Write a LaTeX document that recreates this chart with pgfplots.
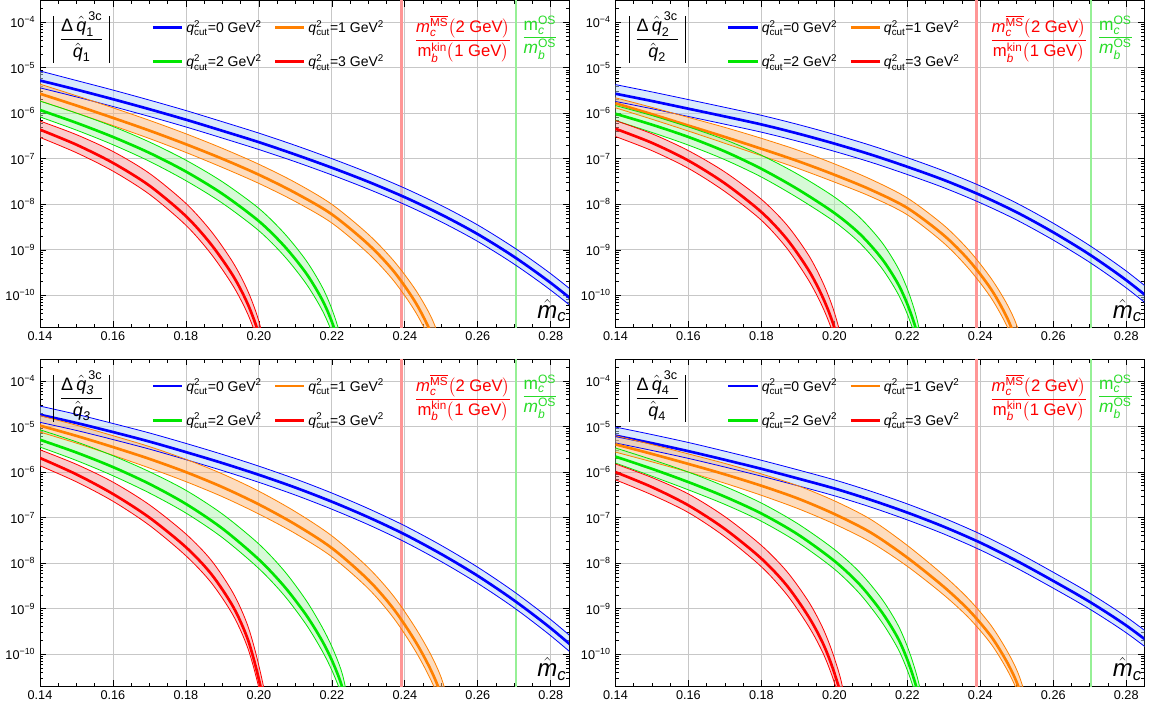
\documentclass[border=0pt]{standalone}
\usepackage{amsmath}
\usepackage{fontspec}
\setmainfont{Liberation Sans}
\usepackage{pgfplots}
\pgfplotsset{compat=1.18}
\definecolor{cB}{RGB}{0,0,255}
\definecolor{cO}{RGB}{255,128,0}
\definecolor{cG}{RGB}{0,230,0}
\definecolor{cR}{RGB}{255,0,0}
\definecolor{fB}{RGB}{181,213,249}
\definecolor{fO}{RGB}{251,185,125}
\definecolor{fG}{RGB}{175,245,175}
\definecolor{fR}{RGB}{245,155,155}
\definecolor{cGt}{RGB}{40,220,40}
\definecolor{vR}{RGB}{255,150,150}
\definecolor{vG}{RGB}{150,240,150}
\pgfplotsset{
 legend image code/.code={\draw[#1] (0pt,0pt) -- (22pt,0pt);},
 qpanel/.style={
  scale only axis, width=396.75pt, height=245pt,
  xmin=0.14, xmax=0.285, ymin=2e-11, ymax=3e-4,
  xtick={0.14,0.16,0.18,0.2,0.22,0.24,0.26,0.28},
  xticklabels={0.14,0.16,0.18,0.20,0.22,0.24,0.26,0.28},
  minor x tick num=3,
  ytick={1e-10,1e-9,1e-8,1e-7,1e-6,1e-5,1e-4},
  yticklabels={10\textsuperscript{−10},10\textsuperscript{−9},10\textsuperscript{−8},10\textsuperscript{−7},10\textsuperscript{−6},10\textsuperscript{−5},10\textsuperscript{−4}},
  minor ytick={3e-11,4e-11,5e-11,6e-11,7e-11,8e-11,9e-11,
   2e-10,3e-10,4e-10,5e-10,6e-10,7e-10,8e-10,9e-10,
   2e-9,3e-9,4e-9,5e-9,6e-9,7e-9,8e-9,9e-9,
   2e-8,3e-8,4e-8,5e-8,6e-8,7e-8,8e-8,9e-8,
   2e-7,3e-7,4e-7,5e-7,6e-7,7e-7,8e-7,9e-7,
   2e-6,3e-6,4e-6,5e-6,6e-6,7e-6,8e-6,9e-6,
   2e-5,3e-5,4e-5,5e-5,6e-5,7e-5,8e-5,9e-5,2e-4,3e-4},
  tick align=inside,
  grid=major, major grid style={draw=black!22, line width=0.6pt},
  major tick length=4.5pt, minor tick length=2.5pt,
  tick style={black, line width=0.5pt},
  axis line style={black, line width=0.6pt},
  tick label style={font=\fontsize{9.5}{11}\selectfont},
  legend columns=2,
  legend cell align=left,
  legend style={at={(rel axis cs:0.203,0.957)}, anchor=north west, draw=none, fill=none,
   font=\fontsize{10.5}{12}\selectfont, row sep=11pt,
   /tikz/every even column/.append style={column sep=7pt}},
 },
 bandline/.style={smooth, line width=0.6pt, forget plot, mark=none},
 midline/.style={smooth, line width=2pt, mark=none},
 bandfill/.style={smooth, draw=none, fill opacity=0.5, forget plot, mark=none},
}
\newcommand{\qlab}[1]{\textit{q}$^{\text{2}}_{\text{cut}}$=#1 GeV$^{\text{2}}$}
\newcommand{\vbar}{\vcenter{\hbox{\rule{0.8pt}{35pt}}}}
\newcommand{\vlines}{%
 \addplot[forget plot, draw=vR, line width=2pt] coordinates {(0.239,1e-12) (0.239,1e-3)};
 \addplot[forget plot, draw=vG, line width=1.8pt] coordinates {(0.2704,1e-12) (0.2704,1e-3)};
}
\newcommand{\decor}[1]{%
 \node[anchor=base] at (rel axis cs:0.079,0.866) {\fontsize{13.5}{16}\selectfont$\vbar\;\dfrac{\text{Δ}\,\hat{\textit{q}}_{#1}^{\,\text{3c}}}{\hat{\textit{q}}_{#1}}\;\vbar$};
 \node[text=cR, anchor=base] at (rel axis cs:0.80,0.866) {\fontsize{12.5}{15}\selectfont$\dfrac{\textit{m}_{\textit{c}}^{\overline{\text{MS}}}\bigl(\text{2 GeV}\bigr)}{\text{m}_{\textit{b}}^{\text{kin}}\bigl(\text{1 GeV}\bigr)}$};
 \node[text=cGt, anchor=base] at (rel axis cs:0.945,0.876) {\fontsize{13}{15}\selectfont$\dfrac{\text{m}_{\textit{c}}^{\text{OS}}}{\textit{m}_{\textit{b}}^{\text{OS}}}$};
 \node[anchor=south east, inner sep=1pt] at (rel axis cs:0.998,0.012) {\fontsize{18}{20}\selectfont$\hat{\textit{m}}_{\textit{c}}$};
}
\begin{document}
\begin{tikzpicture}
\useasboundingbox (0,0) rectangle (864.75pt,-531.75pt);
% ================= panel 1
\begin{axis}[qpanel, ymode=log, at={(30pt,-245.4pt)}, anchor=south west]
\vlines
\addplot[bandfill, fill=fB] coordinates {(0.14,8.51e-6) (0.15,5.25e-6) (0.16,3.24e-6) (0.17,1.95e-6) (0.18,1.15e-6) (0.19,6.53e-7) (0.20,3.67e-7) (0.21,1.97e-7) (0.22,1.01e-7) (0.23,4.95e-8) (0.24,2.26e-8) (0.25,9.44e-9) (0.26,3.51e-9) (0.27,1.11e-9) (0.28,2.99e-10) (0.29,6.84e-11)
 (0.29,2.99e-11) (0.28,1.30e-10) (0.27,4.84e-10) (0.26,1.53e-9) (0.25,4.12e-9) (0.24,9.89e-9) (0.23,2.16e-8) (0.22,4.42e-8) (0.21,8.61e-8) (0.20,1.60e-7) (0.19,2.85e-7) (0.18,5.01e-7) (0.17,8.51e-7) (0.16,1.41e-6) (0.15,2.29e-6) (0.14,3.63e-6)};
\addplot[bandfill, fill=fO] coordinates {(0.14,4.37e-6) (0.15,2.43e-6) (0.16,1.32e-6) (0.17,7.00e-7) (0.18,3.55e-7) (0.19,1.70e-7) (0.20,7.59e-8) (0.21,3.02e-8) (0.22,1.00e-8) (0.23,2.19e-9) (0.237,5.69e-10) (0.243,1.30e-10) (0.2475,2.99e-11) (0.2505,6.03e-12) (0.253,5.62e-13)
 (0.253,9.77e-14) (0.2505,1.32e-12) (0.2475,8.04e-12) (0.243,4.22e-11) (0.237,2.07e-10) (0.23,8.32e-10) (0.22,3.89e-9) (0.21,1.15e-8) (0.20,2.88e-8) (0.19,6.46e-8) (0.18,1.38e-7) (0.17,2.79e-7) (0.16,5.37e-7) (0.15,1.01e-6) (0.14,1.86e-6)};
\addplot[bandfill, fill=fG] coordinates {(0.14,1.86e-6) (0.15,1.01e-6) (0.16,5.13e-7) (0.17,2.34e-7) (0.18,9.33e-8) (0.19,3.13e-8) (0.20,8.13e-9) (0.207,2.29e-9) (0.213,5.75e-10) (0.2175,1.45e-10) (0.2205,3.89e-11) (0.223,7.76e-12) (0.225,6.03e-13)
 (0.225,1.86e-13) (0.223,2.40e-12) (0.2205,1.20e-11) (0.2175,4.47e-11) (0.213,1.78e-10) (0.207,7.24e-10) (0.20,2.63e-9) (0.19,1.06e-8) (0.18,3.31e-8) (0.17,8.81e-8) (0.16,2.04e-7) (0.15,4.27e-7) (0.14,8.32e-7)};
\addplot[bandfill, fill=fR] coordinates {(0.14,6.76e-7) (0.15,3.39e-7) (0.16,1.45e-7) (0.17,4.79e-8) (0.18,1.05e-8) (0.187,2.51e-9) (0.193,5.13e-10) (0.197,1.23e-10) (0.200,2.69e-11) (0.2025,3.55e-12) (0.2045,1.95e-13)
 (0.2045,6.03e-14) (0.2025,1.10e-12) (0.200,8.32e-12) (0.197,3.80e-11) (0.193,1.58e-10) (0.187,7.94e-10) (0.18,3.47e-9) (0.17,1.66e-8) (0.16,5.37e-8) (0.15,1.36e-7) (0.14,2.95e-7)};
\addplot[bandline, draw=cB] coordinates {(0.14,8.51e-6) (0.15,5.25e-6) (0.16,3.24e-6) (0.17,1.95e-6) (0.18,1.15e-6) (0.19,6.53e-7) (0.20,3.67e-7) (0.21,1.97e-7) (0.22,1.01e-7) (0.23,4.95e-8) (0.24,2.26e-8) (0.25,9.44e-9) (0.26,3.51e-9) (0.27,1.11e-9) (0.28,2.99e-10) (0.29,6.84e-11)};
\addplot[bandline, draw=cB] coordinates {(0.14,3.63e-6) (0.15,2.29e-6) (0.16,1.41e-6) (0.17,8.51e-7) (0.18,5.01e-7) (0.19,2.85e-7) (0.20,1.60e-7) (0.21,8.61e-8) (0.22,4.42e-8) (0.23,2.16e-8) (0.24,9.89e-9) (0.25,4.12e-9) (0.26,1.53e-9) (0.27,4.84e-10) (0.28,1.30e-10) (0.29,2.99e-11)};
\addplot[midline, draw=cB] coordinates {(0.14,5.25e-6) (0.15,3.31e-6) (0.16,2.04e-6) (0.17,1.23e-6) (0.18,7.24e-7) (0.19,4.12e-7) (0.20,2.32e-7) (0.21,1.24e-7) (0.22,6.38e-8) (0.23,3.13e-8) (0.24,1.43e-8) (0.25,5.96e-9) (0.26,2.21e-9) (0.27,7.00e-10) (0.28,1.88e-10) (0.29,4.32e-11)};
\addlegendentry{\qlab{0}}
\addplot[bandline, draw=cO] coordinates {(0.14,4.37e-6) (0.15,2.43e-6) (0.16,1.32e-6) (0.17,7.00e-7) (0.18,3.55e-7) (0.19,1.70e-7) (0.20,7.59e-8) (0.21,3.02e-8) (0.22,1.00e-8) (0.23,2.19e-9) (0.237,5.69e-10) (0.243,1.30e-10) (0.2475,2.99e-11) (0.2505,6.03e-12) (0.253,5.62e-13)};
\addplot[bandline, draw=cO] coordinates {(0.14,1.86e-6) (0.15,1.01e-6) (0.16,5.37e-7) (0.17,2.79e-7) (0.18,1.38e-7) (0.19,6.46e-8) (0.20,2.88e-8) (0.21,1.15e-8) (0.22,3.89e-9) (0.23,8.32e-10) (0.237,2.07e-10) (0.243,4.22e-11) (0.2475,8.04e-12) (0.2505,1.32e-12) (0.253,9.77e-14)};
\addplot[midline, draw=cO] coordinates {(0.14,2.69e-6) (0.15,1.48e-6) (0.16,7.94e-7) (0.17,4.17e-7) (0.18,2.09e-7) (0.19,1.00e-7) (0.20,4.47e-8) (0.21,1.78e-8) (0.22,6.03e-9) (0.23,1.32e-9) (0.237,3.35e-10) (0.243,6.84e-11) (0.2475,1.30e-11) (0.2505,2.14e-12) (0.253,1.58e-13)};
\addlegendentry{\qlab{1}}
\addplot[bandline, draw=cG] coordinates {(0.14,1.86e-6) (0.15,1.01e-6) (0.16,5.13e-7) (0.17,2.34e-7) (0.18,9.33e-8) (0.19,3.13e-8) (0.20,8.13e-9) (0.207,2.29e-9) (0.213,5.75e-10) (0.2175,1.45e-10) (0.2205,3.89e-11) (0.223,7.76e-12) (0.225,6.03e-13)};
\addplot[bandline, draw=cG] coordinates {(0.14,8.32e-7) (0.15,4.27e-7) (0.16,2.04e-7) (0.17,8.81e-8) (0.18,3.31e-8) (0.19,1.06e-8) (0.20,2.63e-9) (0.207,7.24e-10) (0.213,1.78e-10) (0.2175,4.47e-11) (0.2205,1.20e-11) (0.223,2.40e-12) (0.225,1.86e-13)};
\addplot[midline, draw=cG] coordinates {(0.14,1.18e-6) (0.15,6.17e-7) (0.16,3.02e-7) (0.17,1.35e-7) (0.18,5.25e-8) (0.19,1.70e-8) (0.20,4.27e-9) (0.207,1.20e-9) (0.213,3.02e-10) (0.2175,7.59e-11) (0.2205,2.04e-11) (0.223,4.07e-12) (0.225,3.16e-13)};
\addlegendentry{\qlab{2}}
\addplot[bandline, draw=cR] coordinates {(0.14,6.76e-7) (0.15,3.39e-7) (0.16,1.45e-7) (0.17,4.79e-8) (0.18,1.05e-8) (0.187,2.51e-9) (0.193,5.13e-10) (0.197,1.23e-10) (0.200,2.69e-11) (0.2025,3.55e-12) (0.2045,1.95e-13)};
\addplot[bandline, draw=cR] coordinates {(0.14,2.95e-7) (0.15,1.36e-7) (0.16,5.37e-8) (0.17,1.66e-8) (0.18,3.47e-9) (0.187,7.94e-10) (0.193,1.58e-10) (0.197,3.80e-11) (0.200,8.32e-12) (0.2025,1.10e-12) (0.2045,6.03e-14)};
\addplot[midline, draw=cR] coordinates {(0.14,4.37e-7) (0.15,2.04e-7) (0.16,8.13e-8) (0.17,2.57e-8) (0.18,5.50e-9) (0.187,1.29e-9) (0.193,2.63e-10) (0.197,6.31e-11) (0.200,1.38e-11) (0.2025,1.82e-12) (0.2045,1e-13)};
\addlegendentry{\qlab{3}}
\decor{\text{1}}
\end{axis}
% ================= panel 2
\begin{axis}[qpanel, ymode=log, at={(461.6pt,-245.4pt)}, anchor=south west]
\vlines
\addplot[bandfill, fill=fB] coordinates {(0.14,4.27e-6) (0.15,2.95e-6) (0.16,2.00e-6) (0.17,1.35e-6) (0.18,9.02e-7) (0.19,5.69e-7) (0.20,3.43e-7) (0.21,1.97e-7) (0.22,1.06e-7) (0.23,5.43e-8) (0.24,2.54e-8) (0.25,1.06e-8) (0.26,3.85e-9) (0.27,1.24e-9) (0.28,3.43e-10) (0.29,7.85e-11)
 (0.29,3.35e-11) (0.28,1.46e-10) (0.27,5.31e-10) (0.26,1.64e-9) (0.25,4.52e-9) (0.24,1.08e-8) (0.23,2.32e-8) (0.22,4.52e-8) (0.21,8.41e-8) (0.20,1.46e-7) (0.19,2.43e-7) (0.18,3.85e-7) (0.17,5.75e-7) (0.16,8.51e-7) (0.15,1.26e-6) (0.14,1.82e-6)};
\addplot[bandfill, fill=fO] coordinates {(0.14,2.19e-6) (0.15,1.35e-6) (0.16,8.13e-7) (0.17,4.90e-7) (0.18,2.82e-7) (0.19,1.55e-7) (0.20,7.76e-8) (0.21,3.55e-8) (0.22,1.38e-8) (0.23,3.47e-9) (0.237,9.55e-10) (0.243,2.34e-10) (0.2475,6.03e-11) (0.2505,1.66e-11) (0.253,2.00e-12)
 (0.253,4.07e-13) (0.2505,4.27e-12) (0.2475,1.95e-11) (0.243,8.71e-11) (0.237,3.72e-10) (0.23,1.41e-9) (0.22,5.89e-9) (0.21,1.48e-8) (0.20,3.09e-8) (0.19,6.17e-8) (0.18,1.17e-7) (0.17,2.19e-7) (0.16,4.07e-7) (0.15,7.41e-7) (0.14,1.32e-6)};
\addplot[bandfill, fill=fG] coordinates {(0.14,1.48e-6) (0.15,8.91e-7) (0.16,5.01e-7) (0.17,2.63e-7) (0.18,1.20e-7) (0.19,4.57e-8) (0.20,1.45e-8) (0.207,5.11e-9) (0.213,1.47e-9) (0.2175,3.94e-10) (0.2205,1.08e-10) (0.223,2.26e-11) (0.225,2.00e-12)
 (0.225,6.03e-13) (0.223,6.84e-12) (0.2205,3.05e-11) (0.2175,1.06e-10) (0.213,3.96e-10) (0.207,1.41e-9) (0.20,4.17e-9) (0.19,1.38e-8) (0.18,3.98e-8) (0.17,9.55e-8) (0.16,2.00e-7) (0.15,3.80e-7) (0.14,6.92e-7)};
\addplot[bandfill, fill=fR] coordinates {(0.14,6.92e-7) (0.15,3.55e-7) (0.16,1.51e-7) (0.17,5.13e-8) (0.18,1.29e-8) (0.187,3.51e-9) (0.193,7.50e-10) (0.197,1.80e-10) (0.200,4.22e-11) (0.2025,6.68e-12) (0.2045,3.39e-13)
 (0.2045,9.55e-14) (0.2025,1.88e-12) (0.200,1.19e-11) (0.197,5.07e-11) (0.193,2.11e-10) (0.187,1.08e-9) (0.18,4.47e-9) (0.17,1.91e-8) (0.16,6.17e-8) (0.15,1.51e-7) (0.14,3.09e-7)};
\addplot[bandline, draw=cB] coordinates {(0.14,4.27e-6) (0.15,2.95e-6) (0.16,2.00e-6) (0.17,1.35e-6) (0.18,9.02e-7) (0.19,5.69e-7) (0.20,3.43e-7) (0.21,1.97e-7) (0.22,1.06e-7) (0.23,5.43e-8) (0.24,2.54e-8) (0.25,1.06e-8) (0.26,3.85e-9) (0.27,1.24e-9) (0.28,3.43e-10) (0.29,7.85e-11)};
\addplot[bandline, draw=cB] coordinates {(0.14,1.82e-6) (0.15,1.26e-6) (0.16,8.51e-7) (0.17,5.75e-7) (0.18,3.85e-7) (0.19,2.43e-7) (0.20,1.46e-7) (0.21,8.41e-8) (0.22,4.52e-8) (0.23,2.32e-8) (0.24,1.08e-8) (0.25,4.52e-9) (0.26,1.64e-9) (0.27,5.31e-10) (0.28,1.46e-10) (0.29,3.35e-11)};
\addplot[midline, draw=cB] coordinates {(0.14,2.69e-6) (0.15,1.86e-6) (0.16,1.26e-6) (0.17,8.51e-7) (0.18,5.69e-7) (0.19,3.59e-7) (0.20,2.16e-7) (0.21,1.24e-7) (0.22,6.68e-8) (0.23,3.43e-8) (0.24,1.60e-8) (0.25,6.68e-9) (0.26,2.43e-9) (0.27,7.85e-10) (0.28,2.16e-10) (0.29,4.95e-11)};
\addlegendentry{\qlab{0}}
\addplot[bandline, draw=cO] coordinates {(0.14,2.19e-6) (0.15,1.35e-6) (0.16,8.13e-7) (0.17,4.90e-7) (0.18,2.82e-7) (0.19,1.55e-7) (0.20,7.76e-8) (0.21,3.55e-8) (0.22,1.38e-8) (0.23,3.47e-9) (0.237,9.55e-10) (0.243,2.34e-10) (0.2475,6.03e-11) (0.2505,1.66e-11) (0.253,2.00e-12)};
\addplot[bandline, draw=cO] coordinates {(0.14,1.32e-6) (0.15,7.41e-7) (0.16,4.07e-7) (0.17,2.19e-7) (0.18,1.17e-7) (0.19,6.17e-8) (0.20,3.09e-8) (0.21,1.48e-8) (0.22,5.89e-9) (0.23,1.41e-9) (0.237,3.72e-10) (0.243,8.71e-11) (0.2475,1.95e-11) (0.2505,4.27e-12) (0.253,4.07e-13)};
\addplot[midline, draw=cO] coordinates {(0.14,1.66e-6) (0.15,9.55e-7) (0.16,5.37e-7) (0.17,3.02e-7) (0.18,1.66e-7) (0.19,8.91e-8) (0.20,4.47e-8) (0.21,2.09e-8) (0.22,8.32e-9) (0.23,2.09e-9) (0.237,5.75e-10) (0.243,1.35e-10) (0.2475,3.02e-11) (0.2505,6.61e-12) (0.253,6.31e-13)};
\addlegendentry{\qlab{1}}
\addplot[bandline, draw=cG] coordinates {(0.14,1.48e-6) (0.15,8.91e-7) (0.16,5.01e-7) (0.17,2.63e-7) (0.18,1.20e-7) (0.19,4.57e-8) (0.20,1.45e-8) (0.207,5.11e-9) (0.213,1.47e-9) (0.2175,3.94e-10) (0.2205,1.08e-10) (0.223,2.26e-11) (0.225,2.00e-12)};
\addplot[bandline, draw=cG] coordinates {(0.14,6.92e-7) (0.15,3.80e-7) (0.16,2.00e-7) (0.17,9.55e-8) (0.18,3.98e-8) (0.19,1.38e-8) (0.20,4.17e-9) (0.207,1.41e-9) (0.213,3.96e-10) (0.2175,1.06e-10) (0.2205,3.05e-11) (0.223,6.84e-12) (0.225,6.03e-13)};
\addplot[midline, draw=cG] coordinates {(0.14,9.77e-7) (0.15,5.62e-7) (0.16,3.02e-7) (0.17,1.45e-7) (0.18,6.03e-8) (0.19,2.14e-8) (0.20,6.46e-9) (0.207,2.23e-9) (0.213,6.43e-10) (0.2175,1.76e-10) (0.2205,5.07e-11) (0.223,1.14e-11) (0.225,1.00e-12)};
\addlegendentry{\qlab{2}}
\addplot[bandline, draw=cR] coordinates {(0.14,6.92e-7) (0.15,3.55e-7) (0.16,1.51e-7) (0.17,5.13e-8) (0.18,1.29e-8) (0.187,3.51e-9) (0.193,7.50e-10) (0.197,1.80e-10) (0.200,4.22e-11) (0.2025,6.68e-12) (0.2045,3.39e-13)};
\addplot[bandline, draw=cR] coordinates {(0.14,3.09e-7) (0.15,1.51e-7) (0.16,6.17e-8) (0.17,1.91e-8) (0.18,4.47e-9) (0.187,1.08e-9) (0.193,2.11e-10) (0.197,5.07e-11) (0.200,1.19e-11) (0.2025,1.88e-12) (0.2045,9.55e-14)};
\addplot[midline, draw=cR] coordinates {(0.14,4.57e-7) (0.15,2.24e-7) (0.16,9.12e-8) (0.17,2.88e-8) (0.18,6.76e-9) (0.187,1.72e-9) (0.193,3.51e-10) (0.197,8.41e-11) (0.200,1.97e-11) (0.2025,3.13e-12) (0.2045,1.58e-13)};
\addlegendentry{\qlab{3}}
\decor{\text{2}}
\end{axis}
% ================= panel 3
\begin{axis}[qpanel, ymode=log, at={(30pt,-514.5pt)}, anchor=south west]
\vlines
\addplot[bandfill, fill=fB] coordinates {(0.14,2.82e-5) (0.15,1.86e-5) (0.16,1.17e-5) (0.17,7.24e-6) (0.18,4.27e-6) (0.19,2.45e-6) (0.20,1.35e-6) (0.21,7.08e-7) (0.22,3.47e-7) (0.23,1.58e-7) (0.24,6.61e-8) (0.25,2.45e-8) (0.26,8.13e-9) (0.27,2.34e-9) (0.28,5.75e-10) (0.29,1.20e-10)
 (0.29,5.31e-11) (0.28,2.54e-10) (0.27,1.04e-9) (0.26,3.59e-9) (0.25,1.08e-8) (0.24,2.92e-8) (0.23,7.00e-8) (0.22,1.53e-7) (0.21,3.13e-7) (0.20,5.96e-7) (0.19,1.08e-6) (0.18,1.88e-6) (0.17,3.20e-6) (0.16,5.19e-6) (0.15,8.22e-6) (0.14,1.24e-5)};
\addplot[bandfill, fill=fO] coordinates {(0.14,1.74e-5) (0.15,1.07e-5) (0.16,6.31e-6) (0.17,3.63e-6) (0.18,1.91e-6) (0.19,9.12e-7) (0.20,3.80e-7) (0.21,1.35e-7) (0.22,3.98e-8) (0.23,7.94e-9) (0.237,1.85e-9) (0.243,3.68e-10) (0.2475,8.53e-11) (0.2505,2.30e-11) (0.253,3.16e-12)
 (0.253,6.03e-13) (0.2505,5.51e-12) (0.2475,2.35e-11) (0.243,1.14e-10) (0.237,6.11e-10) (0.23,2.75e-9) (0.22,1.38e-8) (0.21,4.47e-8) (0.20,1.20e-7) (0.19,2.88e-7) (0.18,6.17e-7) (0.17,1.23e-6) (0.16,2.34e-6) (0.15,4.32e-6) (0.14,7.59e-6)};
\addplot[bandfill, fill=fG] coordinates {(0.14,8.51e-6) (0.15,4.62e-6) (0.16,2.29e-6) (0.17,1.02e-6) (0.18,3.98e-7) (0.19,1.20e-7) (0.20,2.63e-8) (0.207,6.68e-9) (0.213,1.50e-9) (0.2175,3.72e-10) (0.2205,1.19e-10) (0.223,3.35e-11) (0.225,5.01e-12) (0.227,3.16e-13)
 (0.227,9.55e-14) (0.225,1.51e-12) (0.223,1.01e-11) (0.2205,3.59e-11) (0.2175,1.12e-10) (0.213,4.42e-10) (0.207,1.93e-9) (0.20,7.59e-9) (0.19,3.63e-8) (0.18,1.26e-7) (0.17,3.47e-7) (0.16,8.32e-7) (0.15,1.80e-6) (0.14,3.55e-6)};
\addplot[bandfill, fill=fR] coordinates {(0.14,3.09e-6) (0.15,1.48e-6) (0.16,6.03e-7) (0.17,1.91e-7) (0.18,4.37e-8) (0.187,1.14e-8) (0.193,2.16e-9) (0.197,4.12e-10) (0.200,5.56e-11) (0.2025,5.56e-12) (0.2045,2.00e-13)
 (0.2045,6.46e-14) (0.2025,1.80e-12) (0.200,1.80e-11) (0.197,1.33e-10) (0.193,7.00e-10) (0.187,3.67e-9) (0.18,1.45e-8) (0.17,6.76e-8) (0.16,2.29e-7) (0.15,6.10e-7) (0.14,1.38e-6)};
\addplot[bandline, draw=cB] coordinates {(0.14,2.82e-5) (0.15,1.86e-5) (0.16,1.17e-5) (0.17,7.24e-6) (0.18,4.27e-6) (0.19,2.45e-6) (0.20,1.35e-6) (0.21,7.08e-7) (0.22,3.47e-7) (0.23,1.58e-7) (0.24,6.61e-8) (0.25,2.45e-8) (0.26,8.13e-9) (0.27,2.34e-9) (0.28,5.75e-10) (0.29,1.20e-10)};
\addplot[bandline, draw=cB] coordinates {(0.14,1.24e-5) (0.15,8.22e-6) (0.16,5.19e-6) (0.17,3.20e-6) (0.18,1.88e-6) (0.19,1.08e-6) (0.20,5.96e-7) (0.21,3.13e-7) (0.22,1.53e-7) (0.23,7.00e-8) (0.24,2.92e-8) (0.25,1.08e-8) (0.26,3.59e-9) (0.27,1.04e-9) (0.28,2.54e-10) (0.29,5.31e-11)};
\addplot[midline, draw=cB] coordinates {(0.14,1.82e-5) (0.15,1.20e-5) (0.16,7.59e-6) (0.17,4.68e-6) (0.18,2.75e-6) (0.19,1.58e-6) (0.20,8.71e-7) (0.21,4.57e-7) (0.22,2.24e-7) (0.23,1.02e-7) (0.24,4.27e-8) (0.25,1.58e-8) (0.26,5.25e-9) (0.27,1.51e-9) (0.28,3.72e-10) (0.29,7.76e-11)};
\addlegendentry{\qlab{0}}
\addplot[bandline, draw=cO] coordinates {(0.14,1.74e-5) (0.15,1.07e-5) (0.16,6.31e-6) (0.17,3.63e-6) (0.18,1.91e-6) (0.19,9.12e-7) (0.20,3.80e-7) (0.21,1.35e-7) (0.22,3.98e-8) (0.23,7.94e-9) (0.237,1.85e-9) (0.243,3.68e-10) (0.2475,8.53e-11) (0.2505,2.30e-11) (0.253,3.16e-12)};
\addplot[bandline, draw=cO] coordinates {(0.14,7.59e-6) (0.15,4.32e-6) (0.16,2.34e-6) (0.17,1.23e-6) (0.18,6.17e-7) (0.19,2.88e-7) (0.20,1.20e-7) (0.21,4.47e-8) (0.22,1.38e-8) (0.23,2.75e-9) (0.237,6.11e-10) (0.243,1.14e-10) (0.2475,2.35e-11) (0.2505,5.51e-12) (0.253,6.03e-13)};
\addplot[midline, draw=cO] coordinates {(0.14,1.05e-5) (0.15,6.24e-6) (0.16,3.55e-6) (0.17,1.95e-6) (0.18,1.00e-6) (0.19,4.68e-7) (0.20,1.95e-7) (0.21,7.08e-8) (0.22,2.14e-8) (0.23,4.27e-9) (0.237,9.68e-10) (0.243,1.85e-10) (0.2475,3.90e-11) (0.2505,9.14e-12) (0.253,1.00e-12)};
\addlegendentry{\qlab{1}}
\addplot[bandline, draw=cG] coordinates {(0.14,8.51e-6) (0.15,4.62e-6) (0.16,2.29e-6) (0.17,1.02e-6) (0.18,3.98e-7) (0.19,1.20e-7) (0.20,2.63e-8) (0.207,6.68e-9) (0.213,1.50e-9) (0.2175,3.72e-10) (0.2205,1.19e-10) (0.223,3.35e-11) (0.225,5.01e-12) (0.227,3.16e-13)};
\addplot[bandline, draw=cG] coordinates {(0.14,3.55e-6) (0.15,1.80e-6) (0.16,8.32e-7) (0.17,3.47e-7) (0.18,1.26e-7) (0.19,3.63e-8) (0.20,7.59e-9) (0.207,1.93e-9) (0.213,4.42e-10) (0.2175,1.12e-10) (0.2205,3.59e-11) (0.223,1.01e-11) (0.225,1.51e-12) (0.227,9.55e-14)};
\addplot[midline, draw=cG] coordinates {(0.14,5.13e-6) (0.15,2.69e-6) (0.16,1.29e-6) (0.17,5.50e-7) (0.18,2.00e-7) (0.19,5.75e-8) (0.20,1.20e-8) (0.207,3.05e-9) (0.213,7.16e-10) (0.2175,1.86e-10) (0.2205,5.96e-11) (0.223,1.68e-11) (0.225,2.51e-12) (0.227,1.58e-13)};
\addlegendentry{\qlab{2}}
\addplot[bandline, draw=cR] coordinates {(0.14,3.09e-6) (0.15,1.48e-6) (0.16,6.03e-7) (0.17,1.91e-7) (0.18,4.37e-8) (0.187,1.14e-8) (0.193,2.16e-9) (0.197,4.12e-10) (0.200,5.56e-11) (0.2025,5.56e-12) (0.2045,2.00e-13)};
\addplot[bandline, draw=cR] coordinates {(0.14,1.38e-6) (0.15,6.10e-7) (0.16,2.29e-7) (0.17,6.76e-8) (0.18,1.45e-8) (0.187,3.67e-9) (0.193,7.00e-10) (0.197,1.33e-10) (0.200,1.80e-11) (0.2025,1.80e-12) (0.2045,6.46e-14)};
\addplot[midline, draw=cR] coordinates {(0.14,2.04e-6) (0.15,8.91e-7) (0.16,3.31e-7) (0.17,1.00e-7) (0.18,2.24e-8) (0.187,5.69e-9) (0.193,1.08e-9) (0.197,2.07e-10) (0.200,2.79e-11) (0.2025,2.79e-12) (0.2045,1e-13)};
\addlegendentry{\qlab{3}}
\decor{\textit{3}}
\end{axis}
% ================= panel 4
\begin{axis}[qpanel, ymode=log, at={(461.6pt,-514.5pt)}, anchor=south west]
\vlines
\addplot[bandfill, fill=fB] coordinates {(0.14,9.77e-6) (0.15,6.68e-6) (0.16,4.47e-6) (0.17,2.88e-6) (0.18,1.82e-6) (0.19,1.12e-6) (0.20,6.76e-7) (0.21,3.80e-7) (0.22,2.00e-7) (0.23,9.77e-8) (0.24,4.37e-8) (0.25,1.74e-8) (0.26,6.31e-9) (0.27,2.19e-9) (0.28,6.61e-10) (0.29,1.66e-10)
 (0.29,7.41e-11) (0.28,2.95e-10) (0.27,9.77e-10) (0.26,2.82e-9) (0.25,7.76e-9) (0.24,1.95e-8) (0.23,4.37e-8) (0.22,8.91e-8) (0.21,1.70e-7) (0.20,3.02e-7) (0.19,5.01e-7) (0.18,8.13e-7) (0.17,1.29e-6) (0.16,2.00e-6) (0.15,2.99e-6) (0.14,4.37e-6)};
\addplot[bandfill, fill=fO] coordinates {(0.14,6.31e-6) (0.15,4.03e-6) (0.16,2.51e-6) (0.17,1.55e-6) (0.18,9.12e-7) (0.19,5.01e-7) (0.20,2.34e-7) (0.21,9.12e-8) (0.22,2.45e-8) (0.23,5.37e-9) (0.237,1.57e-9) (0.243,4.22e-10) (0.2475,1.12e-10) (0.2505,3.59e-11) (0.253,7.85e-12) (0.2555,6.31e-13)
 (0.2555,1.72e-13) (0.253,2.57e-12) (0.2505,1.29e-11) (0.2475,4.32e-11) (0.243,1.66e-10) (0.237,6.10e-10) (0.23,2.00e-9) (0.22,8.51e-9) (0.21,2.88e-8) (0.20,7.24e-8) (0.19,1.58e-7) (0.18,3.09e-7) (0.17,5.69e-7) (0.16,1.00e-6) (0.15,1.68e-6) (0.14,2.75e-6)};
\addplot[bandfill, fill=fG] coordinates {(0.14,3.39e-6) (0.15,1.88e-6) (0.16,1.00e-6) (0.17,4.84e-7) (0.18,2.09e-7) (0.19,7.33e-8) (0.20,2.00e-8) (0.207,6.24e-9) (0.213,1.64e-9) (0.2175,4.27e-10) (0.2205,1.15e-10) (0.223,2.57e-11) (0.225,3.89e-12) (0.227,2.45e-13)
 (0.227,7.41e-14) (0.225,1.17e-12) (0.223,7.76e-12) (0.2205,3.47e-11) (0.2175,1.29e-10) (0.213,5.07e-10) (0.207,2.11e-9) (0.20,7.41e-9) (0.19,2.85e-8) (0.18,8.32e-8) (0.17,1.95e-7) (0.16,4.07e-7) (0.15,8.13e-7) (0.14,1.58e-6)};
\addplot[bandfill, fill=fR] coordinates {(0.14,1.51e-6) (0.15,7.59e-7) (0.16,3.31e-7) (0.17,1.05e-7) (0.18,2.45e-8) (0.187,6.53e-9) (0.193,1.40e-9) (0.197,3.51e-10) (0.200,8.22e-11) (0.2025,1.46e-11) (0.2045,5.37e-13)
 (0.2045,1.55e-13) (0.2025,4.22e-12) (0.200,2.37e-11) (0.197,1.01e-10) (0.193,4.03e-10) (0.187,2.02e-9) (0.18,8.32e-9) (0.17,3.80e-8) (0.16,1.29e-7) (0.15,3.16e-7) (0.14,6.76e-7)};
\addplot[bandline, draw=cB] coordinates {(0.14,9.77e-6) (0.15,6.68e-6) (0.16,4.47e-6) (0.17,2.88e-6) (0.18,1.82e-6) (0.19,1.12e-6) (0.20,6.76e-7) (0.21,3.80e-7) (0.22,2.00e-7) (0.23,9.77e-8) (0.24,4.37e-8) (0.25,1.74e-8) (0.26,6.31e-9) (0.27,2.19e-9) (0.28,6.61e-10) (0.29,1.66e-10)};
\addplot[bandline, draw=cB] coordinates {(0.14,4.37e-6) (0.15,2.99e-6) (0.16,2.00e-6) (0.17,1.29e-6) (0.18,8.13e-7) (0.19,5.01e-7) (0.20,3.02e-7) (0.21,1.70e-7) (0.22,8.91e-8) (0.23,4.37e-8) (0.24,1.95e-8) (0.25,7.76e-9) (0.26,2.82e-9) (0.27,9.77e-10) (0.28,2.95e-10) (0.29,7.41e-11)};
\addplot[midline, draw=cB] coordinates {(0.14,6.31e-6) (0.15,4.32e-6) (0.16,2.88e-6) (0.17,1.86e-6) (0.18,1.18e-6) (0.19,7.24e-7) (0.20,4.37e-7) (0.21,2.45e-7) (0.22,1.29e-7) (0.23,6.31e-8) (0.24,2.82e-8) (0.25,1.12e-8) (0.26,4.07e-9) (0.27,1.41e-9) (0.28,4.27e-10) (0.29,1.07e-10)};
\addlegendentry{\qlab{0}}
\addplot[bandline, draw=cO] coordinates {(0.14,6.31e-6) (0.15,4.03e-6) (0.16,2.51e-6) (0.17,1.55e-6) (0.18,9.12e-7) (0.19,5.01e-7) (0.20,2.34e-7) (0.21,9.12e-8) (0.22,2.45e-8) (0.23,5.37e-9) (0.237,1.57e-9) (0.243,4.22e-10) (0.2475,1.12e-10) (0.2505,3.59e-11) (0.253,7.85e-12) (0.2555,6.31e-13)};
\addplot[bandline, draw=cO] coordinates {(0.14,2.75e-6) (0.15,1.68e-6) (0.16,1.00e-6) (0.17,5.69e-7) (0.18,3.09e-7) (0.19,1.58e-7) (0.20,7.24e-8) (0.21,2.88e-8) (0.22,8.51e-9) (0.23,2.00e-9) (0.237,6.10e-10) (0.243,1.66e-10) (0.2475,4.32e-11) (0.2505,1.29e-11) (0.253,2.57e-12) (0.2555,1.72e-13)};
\addplot[midline, draw=cO] coordinates {(0.14,4.07e-6) (0.15,2.51e-6) (0.16,1.51e-6) (0.17,8.91e-7) (0.18,5.01e-7) (0.19,2.63e-7) (0.20,1.20e-7) (0.21,4.68e-8) (0.22,1.32e-8) (0.23,3.02e-9) (0.237,9.02e-10) (0.243,2.43e-10) (0.2475,6.31e-11) (0.2505,1.88e-11) (0.253,3.76e-12) (0.2555,2.51e-13)};
\addlegendentry{\qlab{1}}
\addplot[bandline, draw=cG] coordinates {(0.14,3.39e-6) (0.15,1.88e-6) (0.16,1.00e-6) (0.17,4.84e-7) (0.18,2.09e-7) (0.19,7.33e-8) (0.20,2.00e-8) (0.207,6.24e-9) (0.213,1.64e-9) (0.2175,4.27e-10) (0.2205,1.15e-10) (0.223,2.57e-11) (0.225,3.89e-12) (0.227,2.45e-13)};
\addplot[bandline, draw=cG] coordinates {(0.14,1.58e-6) (0.15,8.13e-7) (0.16,4.07e-7) (0.17,1.95e-7) (0.18,8.32e-8) (0.19,2.85e-8) (0.20,7.41e-9) (0.207,2.11e-9) (0.213,5.07e-10) (0.2175,1.29e-10) (0.2205,3.47e-11) (0.223,7.76e-12) (0.225,1.17e-12) (0.227,7.41e-14)};
\addplot[midline, draw=cG] coordinates {(0.14,2.19e-6) (0.15,1.18e-6) (0.16,6.03e-7) (0.17,2.88e-7) (0.18,1.23e-7) (0.19,4.27e-8) (0.20,1.12e-8) (0.207,3.35e-9) (0.213,8.41e-10) (0.2175,2.19e-10) (0.2205,5.89e-11) (0.223,1.32e-11) (0.225,2.00e-12) (0.227,1.26e-13)};
\addlegendentry{\qlab{2}}
\addplot[bandline, draw=cR] coordinates {(0.14,1.51e-6) (0.15,7.59e-7) (0.16,3.31e-7) (0.17,1.05e-7) (0.18,2.45e-8) (0.187,6.53e-9) (0.193,1.40e-9) (0.197,3.51e-10) (0.200,8.22e-11) (0.2025,1.46e-11) (0.2045,5.37e-13)};
\addplot[bandline, draw=cR] coordinates {(0.14,6.76e-7) (0.15,3.16e-7) (0.16,1.29e-7) (0.17,3.80e-8) (0.18,8.32e-9) (0.187,2.02e-9) (0.193,4.03e-10) (0.197,1.01e-10) (0.200,2.37e-11) (0.2025,4.22e-12) (0.2045,1.55e-13)};
\addplot[midline, draw=cR] coordinates {(0.14,1.00e-6) (0.15,4.68e-7) (0.16,1.86e-7) (0.17,5.62e-8) (0.18,1.26e-8) (0.187,3.20e-9) (0.193,6.53e-10) (0.197,1.64e-10) (0.200,3.85e-11) (0.2025,6.84e-12) (0.2045,2.51e-13)};
\addlegendentry{\qlab{3}}
\decor{\text{4}}
\end{axis}
\end{tikzpicture}
\end{document}
